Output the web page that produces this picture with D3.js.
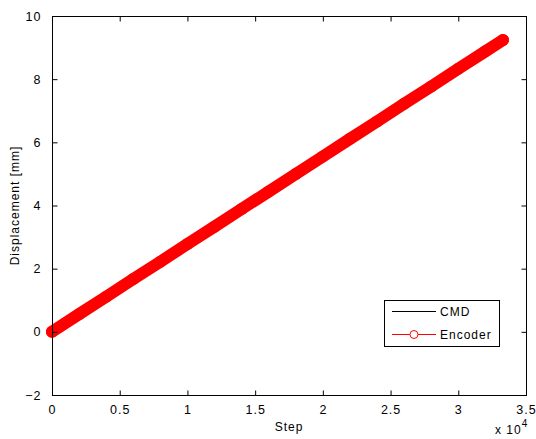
<!DOCTYPE html>
<html>
<head>
<meta charset="utf-8">
<script src="https://cdn.jsdelivr.net/npm/d3@7"></script>
<style>
body { margin: 0; background: #fff; }
text { font-family: "Liberation Sans", Arial, sans-serif; font-size: 12px; letter-spacing: 1px; fill: #000; }
</style>
</head>
<body>
<div id="chart"></div>
<script>
// values
var steps = [0, 2000, 4000, 6000, 8000, 10000, 12000, 14000, 16000, 18000, 20000, 22000, 24000, 26000, 28000, 30000, 32000, 33300];
var encoder = [0, 0.56, 1.11, 1.67, 2.22, 2.78, 3.33, 3.89, 4.44, 5.0, 5.55, 6.11, 6.66, 7.22, 7.77, 8.33, 8.88, 9.24];
var cmd = [0, 0.56, 1.11, 1.67, 2.22, 2.78, 3.33, 3.89, 4.44, 5.0, 5.55, 6.11, 6.66, 7.22, 7.77, 8.33, 8.88, 9.24];
var xTicks = [0, 0.5, 1, 1.5, 2, 2.5, 3, 3.5];
var yTicks = [-2, 0, 2, 4, 6, 8, 10];
var seriesNames = ["CMD", "Encoder"];

var chartW = 536, chartH = 439;
var axLeft = 52, axRight = 526, axTop = 16, axBottom = 395;

var svg = d3.select("#chart")
	.append("svg")
	.attr("width", chartW)
	.attr("height", chartH);

var x = d3.scaleLinear().domain([0, 3.5]).range([axLeft, axRight]);
var y = d3.scaleLinear().domain([-2, 10]).range([axBottom, axTop]);

// data lines (step scaled by 1e4 like the axis)
var line = d3.line()
	.x(function(d) { return x(d[0] / 1e4); })
	.y(function(d) { return y(d[1]); });

var encPts = steps.map(function(s, i) { return [s, encoder[i]]; });
var cmdPts = steps.map(function(s, i) { return [s, cmd[i]]; });

// CMD first, it ends up hidden under the encoder markers
svg.append("path")
	.attr("d", line(cmdPts))
	.attr("fill", "none")
	.attr("stroke", "#000")
	.attr("stroke-width", 1);

// dense encoder markers merge into a thick band
svg.append("path")
	.attr("d", line(encPts))
	.attr("fill", "none")
	.attr("stroke", "#ff0000")
	.attr("stroke-width", 12)
	.attr("stroke-linecap", "round");

svg.selectAll("circle.enc")
	.data(encPts)
	.enter().append("circle")
	.attr("class", "enc")
	.attr("cx", function(d) { return x(d[0] / 1e4); })
	.attr("cy", function(d) { return y(d[1]); })
	.attr("r", 6)
	.attr("fill", "#ff0000");

// box
svg.append("rect")
	.attr("x", axLeft + 0.5)
	.attr("y", axTop + 0.5)
	.attr("width", axRight - axLeft)
	.attr("height", axBottom - axTop)
	.attr("fill", "none")
	.attr("stroke", "#000")
	.attr("stroke-width", 1);

// axes, ticks inward on all four sides
var fmt = function(d) { return d3.format("")(d); };
svg.append("g")
	.attr("transform", "translate(0," + (axBottom + 0.5) + ")")
	.call(d3.axisBottom(x).tickValues(xTicks).tickSizeInner(-5).tickSizeOuter(0).tickPadding(10).tickFormat(fmt))
	.call(function(g) { g.select(".domain").remove(); });
svg.append("g")
	.attr("transform", "translate(0," + (axTop + 0.5) + ")")
	.call(d3.axisTop(x).tickValues(xTicks).tickSizeInner(-5).tickSizeOuter(0).tickFormat(""))
	.call(function(g) { g.select(".domain").remove(); });
svg.append("g")
	.attr("transform", "translate(" + (axLeft + 0.5) + ",0)")
	.call(d3.axisLeft(y).tickValues(yTicks).tickSizeInner(-5).tickSizeOuter(0).tickPadding(11).tickFormat(fmt))
	.call(function(g) { g.select(".domain").remove(); });
svg.append("g")
	.attr("transform", "translate(" + (axRight + 0.5) + ",0)")
	.call(d3.axisRight(y).tickValues(yTicks).tickSizeInner(-5).tickSizeOuter(0).tickFormat(""))
	.call(function(g) { g.select(".domain").remove(); });

svg.selectAll(".tick text")
	.style("font-family", "'Liberation Sans', Arial, sans-serif")
	.style("font-size", "12.5px");

// labels
svg.append("text")
	.attr("x", (axLeft + axRight) / 2)
	.attr("y", 431)
	.attr("text-anchor", "middle")
	.text("Step");

svg.append("text")
	.attr("transform", "translate(19," + (axTop + axBottom) / 2 + ") rotate(-90)")
	.attr("text-anchor", "middle")
	.text("Displacement [mm]");

var expo = svg.append("text")
	.attr("x", 495)
	.attr("y", 434);
expo.append("tspan").text("x 10");
expo.append("tspan").attr("dy", -7).style("font-size", "10px").text("4");

// legend
var lg = svg.append("g");
lg.append("rect")
	.attr("x", 384.5)
	.attr("y", 300.5)
	.attr("width", 115)
	.attr("height", 46)
	.attr("fill", "#fff")
	.attr("stroke", "#000");

var legendY = [311, 334];
var legendColor = ["#000", "#ff0000"];
seriesNames.forEach(function(name, i) {
	lg.append("line")
		.attr("x1", 392).attr("x2", 436)
		.attr("y1", legendY[i] + 0.5).attr("y2", legendY[i] + 0.5)
		.attr("stroke", legendColor[i]);
	if (i == 1) {
		lg.append("circle")
			.attr("cx", 414).attr("cy", legendY[i] + 0.5)
			.attr("r", 4)
			.attr("fill", "#fff")
			.attr("stroke", "#ff0000");
	}
	lg.append("text")
		.attr("x", 440)
		.attr("y", legendY[i] + 5)
		.text(name);
});
</script>
</body>
</html>
